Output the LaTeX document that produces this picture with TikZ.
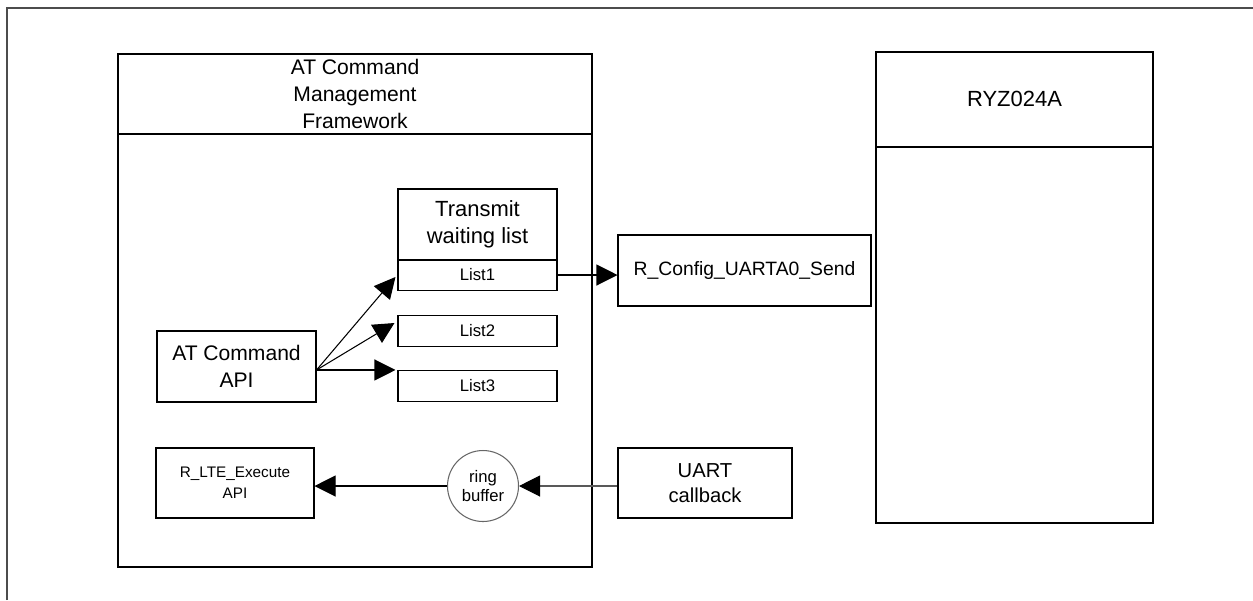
\documentclass[tikz,border=0pt]{standalone}
\usepackage{fontspec}
\setmainfont{Liberation Sans}
\usetikzlibrary{calc,arrows.meta}

\def\px{0.02cm}

\begin{document}
\begin{tikzpicture}[x=\px, y=-\px, line width=0.6pt,
    box/.style={draw, rectangle, inner sep=0pt, align=center},
    tip/.style={-{Triangle[length=0.42cm, width=0.42cm, color=black]}}]
    \useasboundingbox (0,0) rectangle (1253,600);

    % frame
    \draw[black!70, line width=1.1pt] (7,600) -- (7,8) -- (1253,8);

    % framework
    \draw (118,54) rectangle (592,567);
    \draw (118,134) -- (592,134);
    \node[align=center, font=\fontsize{12}{15.3}\selectfont] (fw) at (355,94) {AT Command\\Management\\Framework};

    % module
    \draw (876,52) rectangle (1153,523);
    \draw (876,147) -- (1153,147);
    \node[font=\fontsize{12.5}{15}\selectfont] (ryz) at (1014.5,99) {RYZ024A};

    % waiting list
    \node[box, minimum width=159*\px, minimum height=71*\px, font=\fontsize{12.5}{15.5}\selectfont] (twl) at (477.5,224.5) {Transmit\\waiting list};
    \foreach \n/\y in {1/275, 2/331, 3/386}
        \node[box, minimum width=159*\px, minimum height=31*\px, font=\fontsize{9.5}{11}\selectfont] (list\n) at (477.5,\y) {List\n};

    \node[box, minimum width=159*\px, minimum height=71*\px, font=\fontsize{12}{15}\selectfont] (api) at (236.5,366.5) {AT Command\\API};
    \node[box, minimum width=158*\px, minimum height=70*\px, font=\fontsize{8.7}{11.9}\selectfont] (rlte) at (235,483) {R\_LTE\_Execute\\API};
    \node[draw=black!60, circle, minimum size=71*\px, inner sep=0pt, align=center, font=\fontsize{9.5}{10.8}\selectfont] (ring) at (483,486) {ring\\buffer};

    \node[box, minimum width=253*\px, minimum height=71*\px, font=\fontsize{11}{13}\selectfont] (rcfg) at (744.5,270.5) {R\_Config\_UARTA0\_Send};
    \node[box, minimum width=174*\px, minimum height=70*\px, font=\fontsize{11.5}{14.2}\selectfont] (uart) at (705,483) {UART\\callback};

    % connectors
    \coordinate (fan) at (api.east |- list3.north);
    \draw[tip] (fan) -- ($(list1.west)+(-2,2)$);
    \draw[tip] (fan) -- ($(list2.west)+(-3,-8)$);
    \draw[tip] (fan) -- ($(list3.north west)+(-2,0)$);
    \draw[tip] (list1.east) -- (list1.east -| rcfg.west);
    \draw[tip, black!65] (uart.west |- ring.east) -- (ring.east);
    \draw[tip] (ring.west) -- (ring.west -| rlte.east);
\end{tikzpicture}
\end{document}
